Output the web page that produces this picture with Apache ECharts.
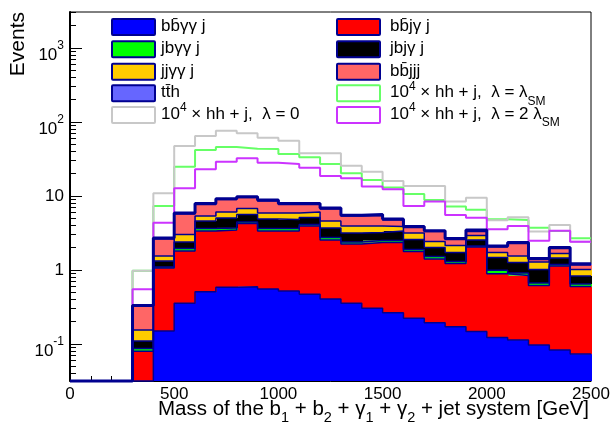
<!DOCTYPE html>
<html>
<head>
<meta charset="utf-8">
<script src="https://cdn.jsdelivr.net/npm/echarts@6/dist/echarts.min.js"></script>
<style>
  html, body { margin: 0; padding: 0; background: #fff; }
  #chart { width: 613px; height: 422px; }
</style>
</head>
<body>
<div id="chart"></div>
<script>
// lower bin edges [GeV], 100 GeV wide bins
const binEdges = [0, 100, 200, 300, 400, 500, 600, 700, 800, 900, 1000, 1100, 1200,
  1300, 1400, 1500, 1600, 1700, 1800, 1900, 2000, 2100, 2200, 2300, 2400];
const binWidth = 100;

// backgrounds, stacking order bottom -> top
const bbaaj = [0, 0, 0, 0, 0.150, 0.355, 0.51, 0.583, 0.595, 0.554, 0.52, 0.469, 0.406,
  0.355, 0.303, 0.265, 0.222, 0.194, 0.171, 0.147, 0.122, 0.113, 0.097, 0.083, 0.073];
const bbjaj = [0, 0, 0, 0.080, 0.91, 1.455, 2.86, 2.887, 3.655, 2.816, 2.85, 3.461, 2.134,
  1.895, 2.047, 2.085, 1.558, 1.216, 1.049, 1.903, 0.768, 0.727, 0.52, 1.047, 0.525];
const jbaaj = [0, 0, 0, 0.007, 0.04, 0.14, 0.27, 0.23, 0.20, 0.27, 0.27, 0.18, 0.21,
  0.14, 0.15, 0.15, 0.11, 0.11, 0.08, 0.06, 0.10, 0.07, 0.05, 0.06, 0.049];
const jbjaj = [0, 0, 0, 0.023, 0.22, 0.44, 0.95, 1.34, 1.17, 1.25, 1.16, 1.01, 0.95,
  0.77, 0.71, 0.87, 0.69, 0.49, 0.42, 0.43, 0.49, 0.35, 0.349, 0.26, 0.183];
const jjaaj = [0, 0, 0, 0.045, 0.23, 0.63, 0.78, 1.04, 1.16, 1.00, 1.09, 0.96, 0.89,
  0.77, 0.72, 0.50, 0.58, 0.42, 0.42, 0.39, 0.24, 0.29, 0.264, 0.22, 0.186];
const bbjjj = [0, 0, 0, 0.171, 1.07, 2.69, 2.31, 2.89, 2.77, 2.67, 1.79, 1.60, 2.08,
  1.44, 1.52, 0.87, 0.59, 0.88, 0.44, 0.38, 0.33, 0.73, 0.11, 0.28, 0.154];
const tth = [0, 0, 0, 0.004, 0.08, 0.19, 0.22, 0.23, 0.25, 0.24, 0.22, 0.22, 0.23,
  0.13, 0.15, 0.16, 0.12, 0.09, 0.08, 0.16, 0.06, 0.07, 0.04, 0.06, 0.04];

// signal x 10^4
const hhLam0 = [0, 0, 0, 0.98, 10.9, 47.4, 64.7, 76.3, 70.4, 61.4, 55.9, 37.8, 37.8,
  25.7, 21.3, 15.9, 13.6, 13.6, 8.4, 9.5, 4.7, 5.15, 3.3, 4.06, 2.41];
const hhLamSM = [0, 0, 0, 0.98, 7.3, 24.9, 41.9, 45.9, 43.6, 43.2, 37.0, 33.3, 27.1,
  20.3, 16.5, 13.0, 10.6, 8.8, 7.2, 6.5, 4.84, 4.74, 3.73, 3.37, 2.68];
const hhLam2SM = [0, 0, 0, 0.55, 4.36, 12.7, 22.9, 29.1, 32.3, 28.2, 27.1, 24.1, 18.6,
  17.3, 13.4, 12.3, 7.3, 8.4, 5.54, 5.09, 3.55, 3.93, 2.49, 3.4, 2.41];

// y axis ticks
const yMajorTicks = [0.1, 1, 10, 100, 1000];
const yTickLabels = ['{b|10}{s|-1}', '{p|1}', '{p|10}', '{b|10}{s|2}', '{b|10}{s|3}'];
const yMinorTicks = [0.04, 0.05, 0.06, 0.07, 0.08, 0.09, 0.2, 0.3, 0.4, 0.5, 0.6, 0.7, 0.8, 0.9,
  2, 3, 4, 5, 6, 7, 8, 9, 20, 30, 40, 50, 60, 70, 80, 90,
  200, 300, 400, 500, 600, 700, 800, 900, 2000, 3000];

const yMin = Math.pow(10, -1.5);
const yMax = Math.pow(10, 3.486);
const FONT = '"Liberation Sans", Arial, sans-serif';
const NAVY = '#000090';

const layers = [
  { name: 'bbaaj', values: bbaaj, color: '#0000ff' },
  { name: 'bbjaj', values: bbjaj, color: '#ff0000' },
  { name: 'jbaaj', values: jbaaj, color: '#00ff00' },
  { name: 'jbjaj', values: jbjaj, color: '#000000' },
  { name: 'jjaaj', values: jjaaj, color: '#ffcc00' },
  { name: 'bbjjj', values: bbjjj, color: '#ff6666' },
  { name: 'tth', values: tth, color: '#6666ff' }
];

// cumulative stack levels
const levels = [];
let run = binEdges.map(() => 0);
layers.forEach(l => {
  run = run.map((v, i) => v + l.values[i]);
  levels.push(run);
});

const clampY = v => Math.max(v, yMin);

function stepData(arr) {
  const d = binEdges.map((x, i) => [x, clampY(arr[i])]);
  d.push([binEdges[binEdges.length - 1] + binWidth, clampY(arr[arr.length - 1])]);
  return d;
}

const series = [];

// signals (below the stack)
[[hhLamSM, '#66ff66'], [hhLam0, '#c8c8c8'], [hhLam2SM, '#cc33ff']].forEach(s => {
  series.push({
    type: 'line', step: 'end', data: stepData(s[0]), symbol: 'none', silent: true,
    lineStyle: { color: s[1], width: 2 }, z: 2
  });
});

// stack fills
layers.forEach((l, k) => {
  const lo = k === 0 ? binEdges.map(() => 0) : levels[k - 1];
  const hi = levels[k];
  series.push({
    type: 'custom', silent: true, z: 3,
    encode: { x: [0, 1], y: [2, 3] },
    data: binEdges.map((x, i) => [x, x + binWidth, clampY(lo[i]), clampY(hi[i])]),
    renderItem: (params, api) => {
      const y0 = api.value(2), y1 = api.value(3);
      if (!(y1 > y0)) return null;
      const a = api.coord([api.value(0), y1]);
      const b = api.coord([api.value(1), y0]);
      const xa = Math.round(a[0]), xb = Math.round(b[0]);
      return {
        type: 'rect',
        shape: { x: xa, y: a[1], width: xb - xa + 1, height: b[1] - a[1] },
        style: { fill: l.color }
      };
    }
  });
});

// stack outlines
levels.forEach((lv, k) => {
  series.push({
    type: 'line', step: 'end', data: stepData(lv), symbol: 'none', silent: true, clip: false,
    lineStyle: { color: NAVY, width: k === levels.length - 1 ? 3 : 1.5 }, z: 4
  });
});

// legend (ROOT style, two columns)
const legRich = {
  n: { fontSize: 17, lineHeight: 18, padding: [4, 0, 0, 0], verticalAlign: 'top', fontFamily: FONT, fill: '#000' },
  sup: { fontSize: 12, lineHeight: 12, verticalAlign: 'top', fontFamily: FONT, fill: '#000' },
  sub: { fontSize: 12, lineHeight: 12, padding: [15, 0, 0, 0], verticalAlign: 'top', fontFamily: FONT, fill: '#000' }
};
const rowY = [27, 49.3, 71.7, 93.3, 115];
const legendLeft = [
  ['{n|bb\u0304\u03b3\u03b3 j}', '#0000ff', NAVY],
  ['{n|jb\u03b3\u03b3 j}', '#00ff00', NAVY],
  ['{n|jj\u03b3\u03b3 j}', '#ffcc00', NAVY],
  ['{n|tt\u0304h}', '#6666ff', NAVY],
  ['{n|10}{sup|4}{n| \u00d7 hh + j,  \u03bb = 0}', '#ffffff', '#c8c8c8']
];
const legendRight = [
  ['{n|bb\u0304j\u03b3 j}', '#ff0000', NAVY],
  ['{n|jbj\u03b3 j}', '#000000', NAVY],
  ['{n|bb\u0304jjj}', '#ff6666', NAVY],
  ['{n|10}{sup|4}{n| \u00d7 hh + j,  \u03bb = \u03bb}{sub|SM}', '#ffffff', '#66ff66'],
  ['{n|10}{sup|4}{n| \u00d7 hh + j,  \u03bb = 2 \u03bb}{sub|SM}', '#ffffff', '#cc33ff']
];
const graphics = [];
function addLegend(list, bx, tx) {
  list.forEach((e, i) => {
    graphics.push({
      type: 'rect', z: 10, silent: true,
      shape: { x: bx, y: rowY[i] - 8, width: 43, height: 16, r: 1 },
      style: { fill: e[1], stroke: e[2], lineWidth: 2 }
    });
    graphics.push({
      type: 'text', z: 10, silent: true, x: tx, y: rowY[i] - 13,
      style: { text: e[0], rich: legRich, verticalAlign: 'top', align: 'left' }
    });
  });
}
addLegend(legendLeft, 112, 161);
addLegend(legendRight, 337, 390);

// axis titles
graphics.push({
  type: 'text', silent: true, x: 589, y: 399,
  style: {
    text: '{n|Mass of the b}{s|1}{n| + b}{s|2}{n| + \u03b3}{s|1}{n| + \u03b3}{s|2}{n| + jet system [GeV]}',
    align: 'right', verticalAlign: 'top',
    rich: {
      n: { fontSize: 20.5, lineHeight: 20, verticalAlign: 'top', fontFamily: FONT, fill: '#000' },
      s: { fontSize: 14.5, lineHeight: 14, padding: [11, 0, 0, 0], verticalAlign: 'top', fontFamily: FONT, fill: '#000' }
    }
  }
});
graphics.push({
  type: 'text', silent: true, x: 18, y: 12, rotation: Math.PI / 2,
  style: { text: 'Events', fontSize: 21, fontFamily: FONT, fill: '#000', align: 'right', verticalAlign: 'middle' }
});

const chart = echarts.init(document.getElementById('chart'), null, { renderer: 'canvas' });
chart.setOption({
  animation: false,
  backgroundColor: '#fff',
  textStyle: { fontFamily: FONT },
  grid: { left: 70, right: 22, top: 12, bottom: 41, show: true, borderColor: '#000', borderWidth: 1 },
  xAxis: {
    type: 'value', min: 0, max: 2500, interval: 500,
    axisLine: { show: true, onZero: false, lineStyle: { color: '#000', width: 1 } },
    axisTick: { show: true, inside: true, length: 10, lineStyle: { color: '#000' } },
    minorTick: { show: true, splitNumber: 5, length: 5, lineStyle: { color: '#000' } },
    axisLabel: { fontSize: 17, color: '#000', margin: 5, fontFamily: FONT, formatter: v => String(v) },
    splitLine: { show: false }
  },
  yAxis: [{
    type: 'log', logBase: 10, min: yMin, max: yMax,
    axisLine: { show: true, onZero: false, lineStyle: { color: '#000', width: 2 } },
    axisTick: { show: true, inside: true, length: 12, customValues: yMajorTicks, lineStyle: { color: '#000' } },
    axisLabel: {
      customValues: yMajorTicks, margin: 6, color: '#000',
      formatter: v => {
        let best = 0;
        yMajorTicks.forEach((t, i) => {
          if (Math.abs(Math.log10(v) - Math.log10(t)) < Math.abs(Math.log10(v) - Math.log10(yMajorTicks[best]))) best = i;
        });
        return yTickLabels[best];
      },
      rich: {
        p: { fontSize: 17, lineHeight: 17, fontFamily: FONT, color: '#000' },
        b: { fontSize: 17, lineHeight: 17, padding: [7, 0, 0, 0], verticalAlign: 'top', fontFamily: FONT, color: '#000' },
        s: { fontSize: 12, lineHeight: 12, verticalAlign: 'top', fontFamily: FONT, color: '#000' }
      }
    },
    splitLine: { show: false }
  }, {
    type: 'log', logBase: 10, min: yMin, max: yMax, position: 'left',
    axisLine: { show: false },
    axisTick: { show: true, inside: true, length: 6, customValues: yMinorTicks, lineStyle: { color: '#000' } },
    axisLabel: { show: false },
    splitLine: { show: false }
  }],
  graphic: graphics,
  series: series
});
</script>
</body>
</html>
